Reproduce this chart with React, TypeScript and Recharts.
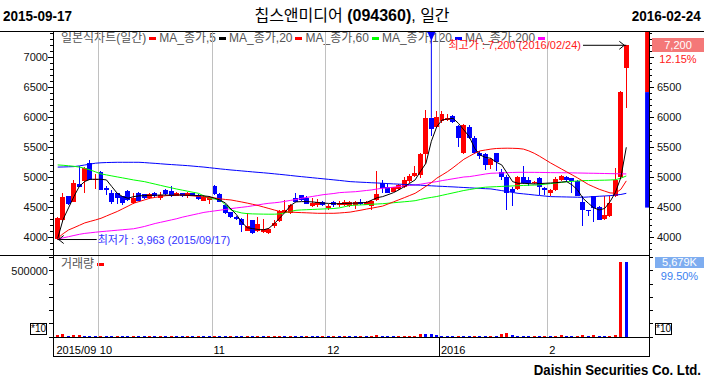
import React from 'react';
import { ComposedChart, Bar, Line, XAxis, YAxis, ReferenceLine, ReferenceArea, ReferenceDot } from 'recharts';

// ---------- data ----------
const OPEN = [
  3975, 4290, 4680, 4595, 4890, 4930, 5235, 4950, 5095, 4820,
  4735, 4730, 4680, 4770, 4570, 4745, 4715, 4660, 4745, 4650,
  4790, 4770, 4690, 4730, 4695, 4730, 4700, 4610, 4620, 4860,
  4720, 4540, 4415, 4340, 4310, 4110, 4290, 4100, 4090, 4075,
  4190, 4270, 4410, 4400, 4660, 4705, 4660, 4520, 4530, 4585,
  4480, 4580, 4530, 4540, 4525, 4540, 4595, 4540, 4525, 4620,
  4910, 4830, 4760, 4800, 4835, 4930, 5015, 5035, 5380, 5980,
  5830, 5930, 5960, 6015, 5860, 5400, 5845, 5650, 5400, 5390,
  5205, 5400, 5095, 5010, 4800, 4800, 5010, 4960, 4900, 4995,
  4815, 4745, 4780, 4955, 5010, 4985, 4930, 4595, 4460, 4680,
  4510, 4305, 4355, 4680, 5010, 6820,
];
const HIGH = [
  4330, 4735, 4690, 4955, 5180, 5170, 5290, 5050, 5100, 4850,
  4780, 4740, 4690, 4780, 4730, 4760, 4720, 4740, 4760, 4760,
  4800, 4855, 4750, 4740, 4750, 4740, 4720, 4700, 4680, 4870,
  4730, 4560, 4420, 4350, 4320, 4400, 4295, 4340, 4310, 4160,
  4290, 4450, 4620, 4560, 4730, 4710, 4680, 4650, 4640, 4600,
  4560, 4600, 4600, 4620, 4610, 4600, 4640, 4610, 4620, 5110,
  4950, 4890, 4840, 4890, 5010, 5050, 5180, 5400, 6120, 5990,
  6110, 6110, 6050, 6030, 5870, 5880, 5870, 5680, 5440, 5400,
  5320, 5410, 5130, 5030, 4845, 5020, 5180, 5000, 4940, 5000,
  4830, 4800, 5000, 5030, 5015, 4990, 4960, 4680, 4460, 4690,
  4520, 4680, 4680, 5150, 6435, 7200,
];
const LOW = [
  3963, 4260, 4540, 4580, 4830, 4730, 4950, 4800, 4780, 4700,
  4560, 4560, 4530, 4600, 4560, 4600, 4640, 4640, 4670, 4620,
  4710, 4670, 4680, 4670, 4660, 4680, 4620, 4600, 4560, 4700,
  4580, 4380, 4320, 4290, 4090, 4100, 4060, 4090, 4070, 4060,
  4150, 4260, 4400, 4390, 4590, 4600, 4550, 4500, 4510, 4520,
  4460, 4510, 4500, 4520, 4510, 4470, 4540, 4530, 4460, 4600,
  4730, 4730, 4750, 4790, 4820, 4910, 5000, 4990, 5220, 5680,
  5820, 5900, 5940, 5900, 5510, 5380, 5640, 5380, 5300, 5120,
  5130, 5100, 4960, 4455, 4520, 4790, 4880, 4850, 4890, 4700,
  4700, 4680, 4770, 4940, 4920, 4730, 4680, 4180, 4350, 4260,
  4280, 4290, 4340, 4670, 4980, 6150,
];
const CLOSE = [
  4315, 4675, 4560, 4910, 4835, 5160, 4955, 4970, 4790, 4780,
  4595, 4650, 4570, 4620, 4650, 4610, 4650, 4715, 4680, 4705,
  4720, 4680, 4730, 4680, 4730, 4690, 4635, 4665, 4670, 4720,
  4590, 4410, 4335, 4300, 4210, 4190, 4070, 4220, 4140, 4130,
  4230, 4430, 4460, 4540, 4595, 4620, 4560, 4570, 4590, 4535,
  4520, 4530, 4570, 4590, 4595, 4580, 4555, 4595, 4610, 4725,
  4815, 4735, 4830, 4870, 4950, 5020, 5075, 5390, 5980, 5800,
  6005, 6055, 5990, 5915, 5650, 5870, 5650, 5400, 5360, 5205,
  5300, 5260, 5010, 4745, 4760, 5010, 4900, 4900, 4925, 4835,
  4780, 4790, 4965, 5020, 4955, 4930, 4680, 4455, 4445, 4485,
  4290, 4370, 4565, 4950, 6420, 7200,
];
const VOLUME = [
  12000, 22000, 8000, 15000, 16000, 9000, 8500, 8000, 9000, 8500,
  8000, 9000, 8500, 8000, 9000, 8500, 8000, 8500, 8000, 9000,
  8000, 9000, 8500, 8000, 8500, 8000, 9000, 8500, 8000, 9000,
  8500, 8000, 9000, 8500, 8000, 9000, 8500, 9000, 8000, 8500,
  9000, 10000, 9000, 9500, 8500, 8000, 9000, 8500, 8000, 9000,
  8000, 8500, 8000, 9000, 8500, 8000, 8500, 8000, 9000, 14000,
  9000, 8500, 8000, 9000, 9500, 10000, 11000, 25000, 24000, 23000,
  12000, 10000, 9000, 8500, 9000, 8500, 8000, 9000, 8500, 8000,
  9000, 8500, 25000, 30000, 12000, 10000, 9000, 8500, 9000, 8000,
  8500, 8000, 9000, 15000, 9000, 8500, 9000, 15000, 9000, 15000,
  9000, 8500, 9000, 15000, 570800, 567900,
];
const MA5 = [
  3983, 4300, 4490, 4680, 4850, 4930, 4967, 4967, 4967, 4956,
  4844, 4733, 4678, 4650, 4678, 4690, 4695, 4700, 4700, 4705,
  4705, 4700, 4705, 4705, 4700, 4700, 4695, 4690, 4680, 4650,
  4620, 4570, 4470, 4380, 4250, 4160, 4145, 4130, 4125, 4150,
  4230, 4320, 4420, 4530, 4590, 4595, 4595, 4590, 4580, 4570,
  4565, 4560, 4560, 4565, 4567, 4570, 4575, 4580, 4620, 4660,
  4678, 4710, 4744, 4790, 4844, 4900, 4956, 5100, 5233, 5600,
  5844, 5956, 5970, 5983, 5900, 5789, 5678, 5483, 5372, 5330,
  5317, 5250, 5206, 5067, 4928, 4900, 4900, 4895, 4890, 4895,
  4900, 4905, 4910, 4920, 4928, 4872, 4789, 4650, 4567, 4490,
  4456, 4480, 4594, 4750, 5000, 5500,
];
const MA20 = [
  3983, 4060, 4122, 4160, 4200, 4240, 4265, 4290, 4317, 4355,
  4393, 4430, 4475, 4520, 4567, 4595, 4622, 4650, 4665, 4680,
  4694, 4698, 4702, 4706, 4698, 4690, 4680, 4672, 4664, 4656,
  4640, 4630, 4622, 4605, 4588, 4570, 4550, 4530, 4505, 4480,
  4455, 4430, 4425, 4420, 4415, 4411, 4408, 4404, 4400, 4400,
  4400, 4400, 4405, 4412, 4420, 4436, 4452, 4470, 4486, 4503,
  4520, 4555, 4590, 4625, 4660, 4697, 4733, 4790, 4850, 4910,
  4985, 5040, 5095, 5160, 5230, 5300, 5350, 5400, 5440, 5455,
  5470, 5480, 5483, 5485, 5483, 5480, 5470, 5440, 5400, 5350,
  5295, 5240, 5190, 5140, 5090, 5040, 4990, 4935, 4880, 4840,
  4800, 4770, 4740, 4735, 4800, 4940,
];
const MA60 = [
  5206, 5200, 5192, 5183, 5170, 5150, 5122, 5090, 5056, 5040,
  5023, 5006, 4990, 4973, 4956, 4942, 4928, 4907, 4886, 4865,
  4844, 4824, 4804, 4786, 4768, 4750, 4733, 4690, 4650, 4636,
  4622, 4539, 4456, 4428, 4405, 4395, 4390, 4388, 4386, 4385,
  4385, 4390, 4410, 4430, 4450, 4456, 4460, 4464, 4468, 4472,
  4476, 4480, 4490, 4510, 4530, 4535, 4540, 4545, 4550, 4555,
  4560, 4568, 4576, 4584, 4592, 4600, 4610, 4630, 4650, 4665,
  4680, 4700, 4720, 4740, 4760, 4780, 4795, 4810, 4825, 4835,
  4840, 4844, 4848, 4852, 4856, 4860, 4864, 4868, 4870, 4875,
  4885, 4895, 4905, 4915, 4925, 4932, 4938, 4944, 4946, 4948,
  4950, 4952, 4955, 4960, 4985, 5022,
];
const MA120 = [
  5170, 5172, 5175, 5178, 5190, 5205, 5220, 5235, 5242, 5246,
  5248, 5250, 5250, 5250, 5250, 5250, 5245, 5238, 5232, 5225,
  5218, 5212, 5206, 5200, 5194, 5186, 5178, 5170, 5160, 5150,
  5140, 5131, 5122, 5114, 5106, 5098, 5090, 5082, 5075, 5067,
  5058, 5049, 5040, 5030, 5020, 5011, 5002, 4993, 4984, 4975,
  4966, 4957, 4948, 4938, 4928, 4923, 4918, 4914, 4909, 4905,
  4900, 4895, 4890, 4886, 4881, 4877, 4872, 4868, 4863, 4858,
  4853, 4849, 4844, 4840, 4835, 4830, 4825, 4820, 4815, 4810,
  4806, 4792, 4778, 4763, 4748, 4733, 4724, 4715, 4705, 4696,
  4687, 4678, 4676, 4674, 4672, 4670, 4668, 4667, 4672, 4678,
  4684, 4689, 4694, 4704, 4714, 4733,
];
const MA200 = [
  3967, 3990, 4010, 4030, 4050, 4065, 4075, 4085, 4094, 4102,
  4110, 4118, 4126, 4134, 4142, 4160, 4180, 4205, 4230, 4250,
  4270, 4290, 4310, 4335, 4355, 4375, 4395, 4415, 4428, 4440,
  4452, 4465, 4478, 4490, 4500, 4511, 4525, 4540, 4555, 4567,
  4575, 4585, 4600, 4615, 4630, 4650, 4665, 4680, 4695, 4710,
  4720, 4730, 4744, 4750, 4755, 4760, 4770, 4780, 4790, 4805,
  4817, 4825, 4835, 4845, 4855, 4865, 4872, 4885, 4900, 4915,
  4928, 4945, 4960, 4975, 4990, 5005, 5011, 5025, 5040, 5055,
  5067, 5070, 5073, 5077, 5080, 5083, 5083, 5082, 5082, 5081,
  5080, 5078, 5077, 5076, 5075, 5074, 5072, 5070, 5068, 5067,
  5065, 5063, 5061, 5060, 5058, 5056,
];

const MONTH_START_IDX = [8, 29, 50, 71, 91];
const MONTH_TICKS = [-0.5, 7.5, 28.5, 49.5, 70.5, 90.5];
const MONTH_LABELS = ['2015/09', '10', '11', '12', '2016', '2'];
const PRICE_LABELS = [4000, 4500, 5000, 5500, 6000, 6500, 7000];
const RIGHT_PRICE_LABELS = [4000, 4500, 5000, 5500, 6000, 6500];
const VOLUME_LABELS = [500000];

const LOW_POINT = { idx: 0, price: 3963, text: '최저가 : 3,963 (2015/09/17)' };
const HIGH_POINT = { idx: 105, price: 7200, text: '최고가 : 7,200 (2016/02/24)' };
const SIGNAL_IDX = 69;
const LAST_PRICE = '7,200';
const LAST_CHANGE = '12.15%';
const LAST_VOLUME = '5,679K';
const LAST_VOL_RATIO = '99.50%';
const LIMIT_DOWN = 4495;

// ---------- layout / style ----------
const RED = '#ff0000';
const BLUE = '#0000ff';
const FONT = "'Liberation Sans', Arial, 'Noto Sans CJK KR', sans-serif";
const X_MIN = -0.868;
const X_MAX = 109.19;
const Y_MIN = 3705;
const Y_MAX = 7438;
const V_MAX = 613636;

const priceTicks: number[] = [];
for (let t = 3800; t <= 7400; t += 100) priceTicks.push(t);
const volTicks: number[] = [];
for (let t = 0; t <= 600000; t += 100000) volTicks.push(t);

const Candle = (props: any) => {
  const { x, y, width, height, payload } = props;
  if (x == null || !payload) return null;
  const { o, h, l, c } = payload;
  const k = h > l ? height / (h - l) : 0;
  const py = (v: number) => y + (h - v) * k;
  const color = c >= o ? RED : BLUE;
  const left = Math.round(x);
  const cx = left + Math.floor(width / 2) + 0.5;
  const top = Math.round(py(Math.max(o, c)));
  const bot = Math.round(py(Math.min(o, c)));
  return (
    <g>
      <line x1={cx} x2={cx} y1={Math.round(y)} y2={Math.round(y + height)} stroke={color} strokeWidth={1} shapeRendering="crispEdges" />
      <rect x={left} y={top} width={width} height={Math.max(1, bot - top)} fill={color} shapeRendering="crispEdges" />
    </g>
  );
};

const VolBar = (props: any) => {
  const { x, y, width, height, payload } = props;
  if (x == null || !payload || !(height > 0)) return null;
  return <rect x={Math.round(x)} y={y} width={width} height={height} fill={payload.vUp ? RED : BLUE} shapeRendering="crispEdges" />;
};

const LeftPriceTick = (props: any) => {
  const { x, y, payload } = props;
  const v = payload.value;
  const major = v % 500 === 0;
  return (
    <g>
      <line x1={x - (major ? 5 : 3)} x2={x} y1={y} y2={y} stroke="#000" shapeRendering="crispEdges" />
      {PRICE_LABELS.includes(v) && (
        <text x={x - 5} y={y} dy={4} textAnchor="end" fontSize={11} fill="#111" fontFamily={FONT}>{v}</text>
      )}
    </g>
  );
};

const RightPriceTick = (props: any) => {
  const { x, y, payload } = props;
  const v = payload.value;
  const major = v % 500 === 0;
  return (
    <g>
      <line x1={x} x2={x + (major ? 5 : 3)} y1={y} y2={y} stroke="#000" shapeRendering="crispEdges" />
      {RIGHT_PRICE_LABELS.includes(v) && (
        <text x={x + 8} y={y} dy={4} textAnchor="start" fontSize={11} fill="#111" fontFamily={FONT}>{v}</text>
      )}
    </g>
  );
};

const LeftVolTick = (props: any) => {
  const { x, y, payload } = props;
  const v = payload.value;
  return (
    <g>
      <line x1={x - 4} x2={x} y1={y} y2={y} stroke="#000" shapeRendering="crispEdges" />
      {VOLUME_LABELS.includes(v) && (
        <text x={x - 5} y={y} dy={4} textAnchor="end" fontSize={11} fill="#111" fontFamily={FONT}>{v}</text>
      )}
    </g>
  );
};

const RightVolTick = (props: any) => {
  const { x, y } = props;
  return <line x1={x} x2={x + 4} y1={y} y2={y} stroke="#000" shapeRendering="crispEdges" />;
};

const MonthTick = (props: any) => {
  const { x, y, payload } = props;
  const idx = MONTH_TICKS.indexOf(payload.value);
  const label = MONTH_LABELS[idx] ?? '';
  const isYear = label.length === 4;
  return (
    <g>
      {isYear && <line x1={Math.round(x) + 0.5} x2={Math.round(x) + 0.5} y1={y} y2={y + 19} stroke="#000" />}
      <text x={x + 1.5} y={y + 17} fontSize={11} fill="#000" fontFamily={FONT}>{label}</text>
    </g>
  );
};

const LowLabel = (p: any) => (
  <text x={p.cx + 1} y={p.cy + 4} fontSize={11} fill="#3333ff" fontFamily={FONT}>{LOW_POINT.text}</text>
);
const LowArrow = (p: any) => (
  <path d={`M${p.cx + 6},${p.cy - 4} L${p.cx + 1},${p.cy} L${p.cx + 6},${p.cy + 4}`} stroke="#000" fill="none" />
);
const HighLabel = (p: any) => (
  <text x={p.cx - 2} y={p.cy + 4} fontSize={11} fill="#ff2020" fontFamily={FONT} textAnchor="end">{HIGH_POINT.text}</text>
);
const HighArrow = (p: any) => (
  <path d={`M${p.cx - 7},${p.cy - 4} L${p.cx - 2},${p.cy} L${p.cx - 7},${p.cy + 4}`} stroke="#000" fill="none" />
);
const SignalMark = (p: any) => (
  <g>
    <line x1={p.cx - 4} x2={p.cx + 4} y1={p.cy + 1.5} y2={p.cy + 1.5} stroke={BLUE} />
    <polygon points={`${p.cx - 3.5},${p.cy + 2} ${p.cx + 3.5},${p.cy + 2} ${p.cx},${p.cy + 10}`} fill={BLUE} />
  </g>
);

const Swatch = ({ color }: { color: string }) => (
  <span style={{ display: 'inline-block', width: 7, height: 3, background: color, margin: '0 3px 0 3px', verticalAlign: 'middle' }} />
);

const hLine = (left: number, top: number, width: number) => (
  <div style={{ position: 'absolute', left, top, width, height: 1, background: '#000' }} />
);
const vLine = (left: number, top: number, height: number) => (
  <div style={{ position: 'absolute', left, top, width: 1, height, background: '#000' }} />
);

export default function App() {
  const rows = OPEN.map((o, i) => ({
    i,
    o,
    h: HIGH[i],
    l: LOW[i],
    c: CLOSE[i],
    range: [LOW[i], HIGH[i]],
    v: VOLUME[i],
    vUp: i === 0 || VOLUME[i] > VOLUME[i - 1],
    ma5: MA5[i],
    ma20: MA20[i],
    ma60: MA60[i],
    ma120: MA120[i],
    ma200: MA200[i],
  }));

  const legendText = { color: '#555', fontSize: 12 } as const;

  return (
    <div style={{ position: 'absolute', left: 0, top: 0, width: 704, height: 381, background: '#fff', fontFamily: FONT, overflow: 'hidden' }}>
      {/* title row */}
      <div style={{ position: 'absolute', left: 3, top: 7, fontSize: 15, lineHeight: '17px', fontWeight: 'bold', transform: 'scaleX(0.9)', transformOrigin: 'left center' }}>2015-09-17</div>
      <div style={{ position: 'absolute', left: 0, top: 6, width: 704, textAlign: 'center', fontSize: 16, lineHeight: '19px' }}>
        칩스앤미디어 <b>(094360)</b>, 일간
      </div>
      <div style={{ position: 'absolute', right: 3, top: 7, fontSize: 15, lineHeight: '17px', fontWeight: 'bold', transform: 'scaleX(0.9)', transformOrigin: 'right center' }}>2016-02-24</div>

      {/* legends */}
      <div style={{ position: 'absolute', left: 61, top: 31, whiteSpace: 'nowrap', lineHeight: '15px', ...legendText }}>
        일본식차트(일간)<Swatch color={RED} />MA_종가,5<Swatch color="#000" />MA_종가,20<Swatch color={RED} />MA_종가,60<Swatch color="#00ff00" />MA_종가,120<Swatch color={BLUE} />MA_종가,200<Swatch color="#ff00ff" />
      </div>
      <div style={{ position: 'absolute', left: 61, top: 257, whiteSpace: 'nowrap', lineHeight: '15px', ...legendText }}>
        거래량<Swatch color={RED} />
      </div>

      {/* price chart */}
      <div style={{ position: 'absolute', left: 0, top: 0 }}>
        <ComposedChart width={704} height={256} data={rows} margin={{ top: 31, right: 0, bottom: 1, left: 0 }}>
          <XAxis dataKey="i" type="number" domain={[X_MIN, X_MAX]} allowDataOverflow hide />
          <YAxis yAxisId="left" orientation="left" width={53} domain={[Y_MIN, Y_MAX]} allowDataOverflow ticks={priceTicks} interval={0} tick={<LeftPriceTick />} tickLine={false} axisLine={false} tickSize={0} tickMargin={0} />
          <YAxis yAxisId="right" orientation="right" width={55} domain={[Y_MIN, Y_MAX]} allowDataOverflow ticks={priceTicks} interval={0} tick={<RightPriceTick />} tickLine={false} axisLine={false} tickSize={0} tickMargin={0} />
          {MONTH_START_IDX.map((m) => (
            <ReferenceLine key={m} yAxisId="left" x={m - 0.5} stroke="#c0c0c0" shapeRendering="crispEdges" />
          ))}
          <ReferenceArea yAxisId="left" x1={X_MAX - 0.72} x2={X_MAX} y1={CLOSE[104]} y2={Y_MAX} fill={RED} fillOpacity={1} stroke="none" />
          <ReferenceArea yAxisId="left" x1={X_MAX - 0.72} x2={X_MAX} y1={LIMIT_DOWN} y2={CLOSE[104]} fill={BLUE} fillOpacity={1} stroke="none" />
          <Bar yAxisId="left" dataKey="range" barSize={5} shape={<Candle />} isAnimationActive={false} />
          <Line yAxisId="left" dataKey="ma200" stroke="#ff00ff" strokeWidth={1} dot={false} isAnimationActive={false} />
          <Line yAxisId="left" dataKey="ma120" stroke={BLUE} strokeWidth={1} dot={false} isAnimationActive={false} />
          <Line yAxisId="left" dataKey="ma60" stroke="#00ff00" strokeWidth={1} dot={false} isAnimationActive={false} />
          <Line yAxisId="left" dataKey="ma20" stroke={RED} strokeWidth={1} dot={false} isAnimationActive={false} />
          <Line yAxisId="left" dataKey="ma5" stroke="#000" strokeWidth={1} dot={false} isAnimationActive={false} />
          <ReferenceLine yAxisId="left" segment={[{ x: SIGNAL_IDX, y: HIGH[SIGNAL_IDX] }, { x: SIGNAL_IDX, y: Y_MAX }]} stroke={BLUE} />
          <ReferenceDot yAxisId="left" x={SIGNAL_IDX} y={Y_MAX} shape={SignalMark} />
          <ReferenceLine yAxisId="left" segment={[{ x: LOW_POINT.idx, y: LOW_POINT.price }, { x: LOW_POINT.idx + 7.2, y: LOW_POINT.price }]} stroke="#000" />
          <ReferenceDot yAxisId="left" x={LOW_POINT.idx} y={LOW_POINT.price} shape={LowArrow} />
          <ReferenceDot yAxisId="left" x={LOW_POINT.idx + 7.2} y={LOW_POINT.price} shape={LowLabel} />
          <ReferenceLine yAxisId="left" segment={[{ x: HIGH_POINT.idx - 8, y: HIGH_POINT.price }, { x: HIGH_POINT.idx, y: HIGH_POINT.price }]} stroke="#000" />
          <ReferenceDot yAxisId="left" x={HIGH_POINT.idx} y={HIGH_POINT.price} shape={HighArrow} />
          <ReferenceDot yAxisId="left" x={HIGH_POINT.idx - 8} y={HIGH_POINT.price} shape={HighLabel} />
        </ComposedChart>
      </div>

      {/* volume chart */}
      <div style={{ position: 'absolute', left: 0, top: 255 }}>
        <ComposedChart width={704} height={101} data={rows} margin={{ top: 1, right: 0, bottom: 0, left: 0 }}>
          <XAxis dataKey="i" type="number" domain={[X_MIN, X_MAX]} allowDataOverflow ticks={MONTH_TICKS} interval={0} tick={<MonthTick />} tickLine={false} axisLine={false} tickSize={0} tickMargin={0} height={19} />
          <YAxis yAxisId="left" orientation="left" width={53} domain={[0, V_MAX]} allowDataOverflow ticks={volTicks} interval={0} tick={<LeftVolTick />} tickLine={false} axisLine={false} tickSize={0} tickMargin={0} />
          <YAxis yAxisId="right" orientation="right" width={55} domain={[0, V_MAX]} allowDataOverflow ticks={volTicks} interval={0} tick={<RightVolTick />} tickLine={false} axisLine={false} tickSize={0} tickMargin={0} />
          {MONTH_START_IDX.map((m) => (
            <ReferenceLine key={m} yAxisId="left" x={m - 0.5} stroke="#c0c0c0" shapeRendering="crispEdges" />
          ))}
          <Bar yAxisId="left" dataKey="v" barSize={3} shape={<VolBar />} isAnimationActive={false} />
        </ComposedChart>
      </div>

      {/* frame */}
      {hLine(0, 31, 704)}
      {hLine(0, 255, 650)}
      {hLine(53, 337, 597)}
      {hLine(53, 356, 597)}
      {vLine(53, 31, 326)}
      {vLine(649, 31, 326)}

      {/* right side info */}
      <div style={{ position: 'absolute', left: 652, top: 38, width: 52, height: 14, background: '#f47878', color: '#fff', fontSize: 11, lineHeight: '14px', textAlign: 'center' }}>{LAST_PRICE}</div>
      <div style={{ position: 'absolute', left: 652, top: 53, width: 52, fontSize: 11, lineHeight: '13px', color: '#ff2020', textAlign: 'center' }}>{LAST_CHANGE}</div>
      <div style={{ position: 'absolute', left: 655, top: 257, width: 49, height: 11, background: '#7eadf0', color: '#fff', fontSize: 11, lineHeight: '11px', textAlign: 'center' }}>{LAST_VOLUME}</div>
      <div style={{ position: 'absolute', left: 655, top: 270, width: 49, fontSize: 11, lineHeight: '13px', color: '#3a7ff0', textAlign: 'center' }}>{LAST_VOL_RATIO}</div>

      {/* *10 unit boxes */}
      <div style={{ position: 'absolute', left: 30, top: 323, width: 15, height: 10, border: '1px solid #000', fontSize: 10, lineHeight: '10px', textAlign: 'center', background: '#fff' }}>*10</div>
      <div style={{ position: 'absolute', left: 655, top: 323, width: 15, height: 10, border: '1px solid #000', fontSize: 10, lineHeight: '10px', textAlign: 'center', background: '#fff' }}>*10</div>

      {/* footer */}
      <div style={{ position: 'absolute', right: 3, top: 361, fontSize: 15, lineHeight: '17px', fontWeight: 'bold', transform: 'scaleX(0.88)', transformOrigin: 'right center', whiteSpace: 'nowrap' }}>Daishin Securities Co. Ltd.</div>
    </div>
  );
}
